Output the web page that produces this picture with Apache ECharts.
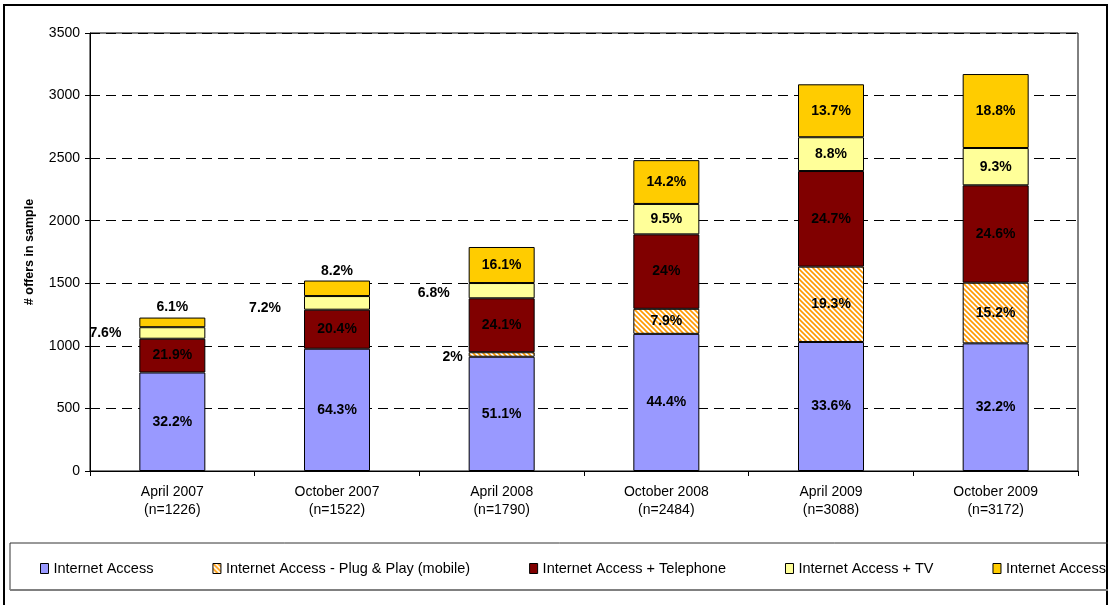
<!DOCTYPE html>
<html>
<head>
<meta charset="utf-8">
<script src="https://cdn.jsdelivr.net/npm/echarts@6/dist/echarts.min.js"></script>
<style>
  html, body { margin: 0; padding: 0; background: #fff; }
  #main { width: 1108px; height: 605px; }
</style>
</head>
<body>
<div id="main"></div>
<script>
var categories = ["April 2007\n(n=1226)", "October 2007\n(n=1522)", "April 2008\n(n=1790)",
  "October 2008\n(n=2484)", "April 2009\n(n=3088)", "October 2009\n(n=3172)"];
var yTicks = [0, 500, 1000, 1500, 2000, 2500, 3000, 3500];

// segment heights (# offers)
var accessVals    = [787, 977, 913, 1096, 1031, 1020];
var plugPlayVals  = [0, 0, 36, 200, 602, 485];
var telephoneVals = [270, 312, 431, 595, 764, 778];
var tvVals        = [92, 109, 122, 243, 270, 298];
var tripleVals    = [77, 124, 288, 350, 423, 591];

// printed percentage labels
var accessLabels    = ["32.2%", "64.3%", "51.1%", "44.4%", "33.6%", "32.2%"];
var plugPlayLabels  = ["", "", "2%", "7.9%", "19.3%", "15.2%"];
var telephoneLabels = ["21.9%", "20.4%", "24.1%", "24%", "24.7%", "24.6%"];
var tvLabels        = ["7.6%", "7.2%", "6.8%", "9.5%", "8.8%", "9.3%"];
var tripleLabels    = ["6.1%", "8.2%", "16.1%", "14.2%", "13.7%", "18.8%"];

var seriesNames = ["Internet Access", "Internet Access - Plug & Play (mobile)",
  "Internet Access + Telephone", "Internet Access + TV", "Internet Access + Telephone + TV"];

// hatch pattern for the mobile segment
var hatch = document.createElement("canvas");
hatch.width = 5; hatch.height = 5;
var hc = hatch.getContext("2d");
hc.fillStyle = "#fff";
hc.fillRect(0, 0, 5, 5);
hc.strokeStyle = "#FF9900";
hc.lineWidth = 1.6;
hc.beginPath();
hc.moveTo(-1, -1); hc.lineTo(6, 6);
hc.moveTo(-1, 4); hc.lineTo(1, 6);
hc.moveTo(4, -1); hc.lineTo(6, 1);
hc.stroke();

var colors = ["#9999FF", { image: hatch, repeat: "repeat" }, "#800000", "#FFFF99", "#FFCC00"];
var values = [accessVals, plugPlayVals, telephoneVals, tvVals, tripleVals];
var labels = [accessLabels, plugPlayLabels, telephoneLabels, tvLabels, tripleLabels];

// labels Excel pushed outside the thin segments
var outside = {
  "3-0": { position: "left", distance: 18 },
  "4-0": { position: "top", distance: 3 },
  "3-1": { position: "left", distance: 23, offset: [0, 5] },
  "4-1": { position: "top", distance: 2 },
  "3-2": { position: "left", distance: 19, offset: [0, 2] },
  "1-2": { position: "left", distance: 6, offset: [0, 3] }
};

var myChart = echarts.init(document.getElementById("main"));

var series = seriesNames.map(function (name, s) {
  return {
    name: name,
    type: "bar",
    stack: "total",
    barWidth: 66,
    itemStyle: { color: colors[s], borderColor: "#000", borderWidth: 1 },
    label: {
      show: true,
      position: "inside",
      color: "#000",
      fontWeight: "bold",
      fontSize: 14,
      fontFamily: "Liberation Sans, Arial, sans-serif"
    },
    data: values[s].map(function (v, i) {
      var item = { value: v || null, label: { formatter: labels[s][i] } };
      var o = outside[s + "-" + i];
      if (o) {
        item.label.position = o.position;
        item.label.distance = o.distance;
        if (o.offset) item.label.offset = o.offset;
      }
      return item;
    })
  };
});

option = {
  animation: false,
  textStyle: { fontFamily: "Liberation Sans, Arial, sans-serif" },
  graphic: [
    { type: "rect", shape: { x: 4, y: 5, width: 1103, height: 610 },
      style: { fill: null, stroke: "#000", lineWidth: 2 } },
    { type: "rect", shape: { x: 10, y: 543, width: 1110, height: 47 },
      style: { fill: null, stroke: "#333", lineWidth: 1 } },
    { type: "line", shape: { x1: 10, y1: 590, x2: 1108, y2: 590 },
      style: { stroke: "#808080", lineWidth: 2 } }
  ],
  legend: {
    left: 35,
    top: 556,
    width: 2000,
    itemWidth: 8,
    itemHeight: 10,
    itemGap: 59,
    icon: "rect",
    itemStyle: { borderColor: "#000", borderWidth: 1 },
    textStyle: { fontSize: 14.5, color: "#000" },
    data: seriesNames
  },
  grid: {
    left: 90, right: 30, top: 33, bottom: 134,
    show: true, borderColor: "#000", borderWidth: 1
  },
  xAxis: {
    type: "category",
    data: categories,
    axisLine: { lineStyle: { color: "#000", width: 1 } },
    axisTick: { show: true, length: 5, lineStyle: { color: "#000" } },
    axisLabel: { color: "#000", fontSize: 14, lineHeight: 18, margin: 12 }
  },
  yAxis: {
    type: "value",
    min: yTicks[0],
    max: yTicks[yTicks.length - 1],
    interval: 500,
    name: "# offers in sample",
    nameLocation: "middle",
    nameGap: 54,
    nameTextStyle: { fontSize: 12.5, fontWeight: "bold", color: "#000" },
    axisLine: { show: true, lineStyle: { color: "#000", width: 1 } },
    axisTick: { show: true, length: 5, lineStyle: { color: "#000" } },
    axisLabel: { color: "#000", fontSize: 14, margin: 10, formatter: function (v) { return String(v); } },
    splitLine: { lineStyle: { color: "#000", type: [10, 6], width: 1 } }
  },
  series: series
};

myChart.setOption(option);
</script>
</body>
</html>
